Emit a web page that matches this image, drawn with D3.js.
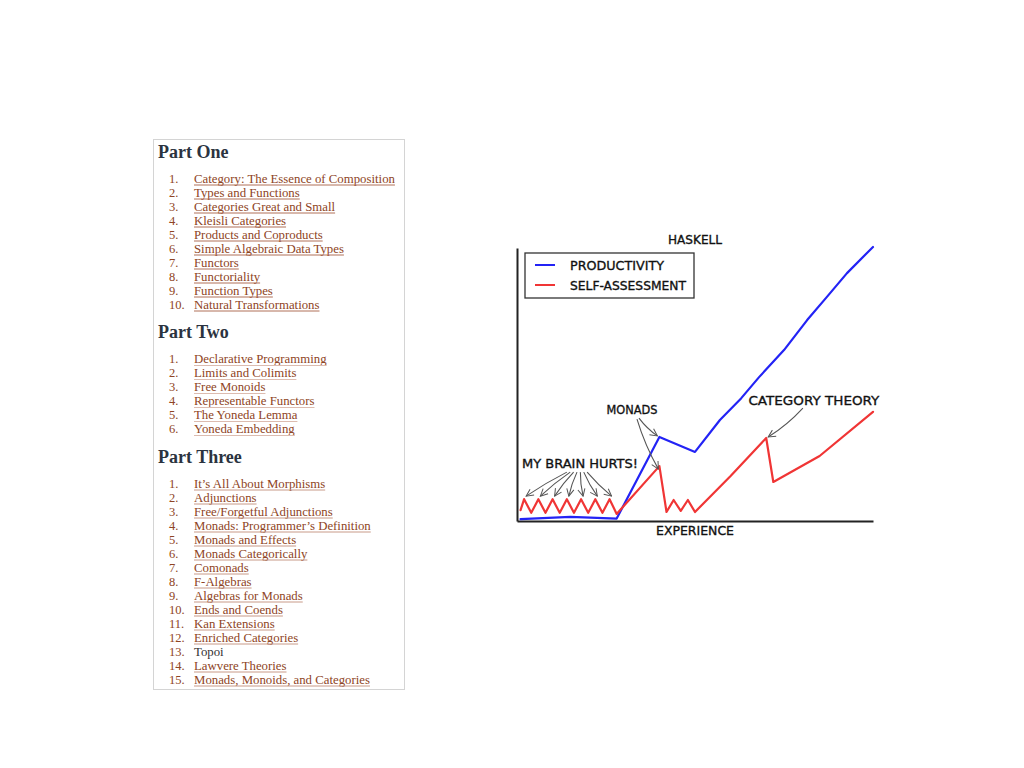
<!DOCTYPE html>
<html>
<head>
<meta charset="utf-8">
<script src="https://cdn.jsdelivr.net/npm/d3@7/dist/d3.min.js"></script>
<style>
  html, body { margin: 0; padding: 0; background: #fff; }
  svg { display: block; }
</style>
</head>
<body>
<script>
// ---------- Table of contents data ----------
const sectionTitles = ["Part One", "Part Two", "Part Three"];
const partOne = [
  "Category: The Essence of Composition", "Types and Functions", "Categories Great and Small",
  "Kleisli Categories", "Products and Coproducts", "Simple Algebraic Data Types",
  "Functors", "Functoriality", "Function Types", "Natural Transformations"
];
const partTwo = [
  "Declarative Programming", "Limits and Colimits", "Free Monoids",
  "Representable Functors", "The Yoneda Lemma", "Yoneda Embedding"
];
const partThree = [
  "It\u2019s All About Morphisms", "Adjunctions", "Free/Forgetful Adjunctions",
  "Monads: Programmer\u2019s Definition", "Monads and Effects", "Monads Categorically",
  "Comonads", "F-Algebras", "Algebras for Monads", "Ends and Coends", "Kan Extensions",
  "Enriched Categories", "Topoi", "Lawvere Theories", "Monads, Monoids, and Categories"
];
const unlinked = ["Topoi"];

// ---------- Chart data (experience 0-100, level 0-100) ----------
const seriesNames = ["PRODUCTIVITY", "SELF-ASSESSMENT"];
const productivityX = [1, 15, 28, 40, 50, 57, 63, 68, 75, 81.5, 87, 92.7, 100];
const productivityY = [0.7, 1.5, 0.9, 30.8, 25.3, 37, 45, 52.7, 62.6, 73.6, 82, 90.8, 100.4];
const selfAssessX = [1, 2, 4, 6, 8, 10, 12, 14, 16, 18, 20, 22, 24, 26, 28, 40, 42, 44, 46, 48, 50, 60, 70, 72, 85, 100];
const selfAssessY = [4, 8, 3, 8, 3, 8, 3, 8, 3, 8, 3, 8, 3, 8, 2.6, 20.1, 3.3, 7.7, 3.7, 7.7, 3.3, 16.5, 30.4, 14.3, 23.8, 40];
const chartTitle = "HASKELL";
const xLabel = "EXPERIENCE";
const annotationTexts = ["MY BRAIN HURTS!", "MONADS", "CATEGORY THEORY"];
const annotationX = [17.7, 32.3, 83.4];
const annotationY = [21.2, 41, 44.3];

const W = 1024, H = 768;
const svg = d3.select("body").append("svg").attr("width", W).attr("height", H);

const defs = svg.append("defs");
defs.append("marker").attr("id", "arrow")
  .attr("viewBox", "0 0 10 10").attr("refX", 9).attr("refY", 5)
  .attr("markerWidth", 9).attr("markerHeight", 9).attr("markerUnits", "userSpaceOnUse")
  .attr("orient", "auto")
  .append("path").attr("d", "M1,1 L9,5 L1,9").attr("fill", "none")
  .attr("stroke", "#555").attr("stroke-width", 1.1);

// ---------- Table of contents ----------
const toc = svg.append("g");
toc.append("rect").attr("x", 153.5).attr("y", 139.5).attr("width", 251).attr("height", 550)
  .attr("fill", "#fff").attr("stroke", "#d4d4d4").attr("stroke-width", 1);

const sections = [partOne, partTwo, partThree];
const underlineColors = ["#b07058", "#dcbcb0", "#c89a88"];
let cy = 151.5;
sections.forEach((items, si) => {
  toc.append("text").attr("x", 158).attr("y", cy + 6)
    .attr("font-family", "Liberation Serif, DejaVu Serif, serif")
    .attr("font-weight", "bold").attr("font-size", 18).attr("fill", "#2b3340")
    .text(sectionTitles[si]);
  cy += 26.5;
  items.forEach((t, i) => {
    const by = cy + 4.5;
    toc.append("text").attr("x", 169).attr("y", by)
      .attr("font-family", "Liberation Serif, DejaVu Serif, serif")
      .attr("font-size", 12.5).attr("fill", "#8e4424").text((i + 1) + ".");
    const isLink = unlinked.indexOf(t) < 0;
    const tx = toc.append("text").attr("x", 194).attr("y", by)
      .attr("font-family", "Liberation Serif, DejaVu Serif, serif")
      .attr("font-size", 12.8).attr("fill", isLink ? "#8e4424" : "#333").text(t);
    if (isLink) {
      const len = tx.node().getComputedTextLength();
      toc.append("line").attr("x1", 194).attr("x2", 194 + len)
        .attr("y1", by + 2.5).attr("y2", by + 2.5)
        .attr("stroke", underlineColors[si]).attr("stroke-width", 1);
    }
    cy += 14;
  });
  cy += 14;
});

// ---------- XKCD chart ----------
const x = d3.scaleLinear().domain([0, 100]).range([517, 873]);
const y = d3.scaleLinear().domain([0, 100]).range([521, 248]);
const chart = svg.append("g");

const xAxis = chart.append("g").attr("transform", `translate(0,${y(0)})`)
  .call(d3.axisBottom(x).tickValues([]).tickSizeOuter(0));
const yAxis = chart.append("g").attr("transform", `translate(${x(0)},0)`)
  .call(d3.axisLeft(y).tickValues([]).tickSizeOuter(0));
[xAxis, yAxis].forEach(a => a.select(".domain").attr("stroke", "#222").attr("stroke-width", 2));

const line = d3.line().x(d => x(d[0])).y(d => y(d[1]));
const prod = productivityX.map((v, i) => [v, productivityY[i]]);
const self = selfAssessX.map((v, i) => [v, selfAssessY[i]]);
const colors = ["#2323f5", "#f03535"];
[prod, self].forEach((pts, i) => {
  chart.append("path").datum(pts).attr("d", line).attr("fill", "none")
    .attr("stroke", colors[i]).attr("stroke-width", 2.2)
    .attr("stroke-linejoin", "round").attr("stroke-linecap", "round");
});

const fontFam = "DejaVu Sans, sans-serif";
function label(txt, cx, cyy, w) {
  chart.append("text").attr("x", cx).attr("y", cyy).attr("text-anchor", "middle")
    .attr("font-family", fontFam).attr("font-size", 13).attr("fill", "#111")
    .attr("stroke", "#111").attr("stroke-width", 0.35)
    .attr("textLength", w).attr("lengthAdjust", "spacingAndGlyphs").text(txt);
}
label(chartTitle, x(50), 244, 54);
label(xLabel, x(50), 535, 78);

// Legend
const lg = chart.append("g");
lg.append("rect").attr("x", x(0) + 8).attr("y", y(100) + 5).attr("width", 169).attr("height", 45)
  .attr("fill", "#fff").attr("stroke", "#333").attr("stroke-width", 1.3);
seriesNames.forEach((n, i) => {
  const ly = y(100) + 17 + i * 20;
  lg.append("line").attr("x1", x(0) + 18).attr("x2", x(0) + 38).attr("y1", ly).attr("y2", ly)
    .attr("stroke", colors[i]).attr("stroke-width", 2);
  lg.append("text").attr("x", x(0) + 53).attr("y", ly + 5)
    .attr("font-family", fontFam).attr("font-size", 13).attr("fill", "#111")
    .attr("stroke", "#111").attr("stroke-width", 0.35)
    .attr("textLength", i === 0 ? 94 : 116).attr("lengthAdjust", "spacingAndGlyphs").text(n);
});

// Annotations
const annW = [116, 51, 131];
annotationTexts.forEach((t, i) => {
  label(t, x(annotationX[i]), y(annotationY[i]) + 5, annW[i]);
});

function arrow(sx, sy, ex, ey, bend) {
  const mx = (sx + ex) / 2, my = (sy + ey) / 2;
  const dx = ex - sx, dy = ey - sy;
  const L = Math.hypot(dx, dy);
  const cxp = mx - dy / L * bend, cyp = my + dx / L * bend;
  chart.append("path").attr("d", `M${sx},${sy} Q${cxp},${cyp} ${ex},${ey}`)
    .attr("fill", "none").attr("stroke", "#555").attr("stroke-width", 1.1)
    .attr("marker-end", "url(#arrow)");
}
// MY BRAIN HURTS! -> zigzag peaks
const peaks = self.filter((p, i) => i >= 1 && i <= 13 && i % 2 === 1);
peaks.forEach((p, k) => {
  const sx = x(annotationX[0] - 3.7 + k * 0.95), sy = y(annotationY[0]) + 9;
  arrow(sx, sy, x(p[0]) + 2, y(p[1]) - 3, 1.5);
});
// MONADS -> blue peak and red peak
arrow(x(annotationX[1]) + 7, y(annotationY[1]) + 9, x(prod[3][0]) - 2, y(prod[3][1]) - 1, 2);
arrow(x(annotationX[1]) + 5, y(annotationY[1]) + 10, x(self[15][0]) - 1, y(self[15][1]) + 3, 3);
// CATEGORY THEORY -> red peak
arrow(x(annotationX[2]) - 11, y(annotationY[2]) + 8, x(self[22][0]) + 2, y(self[22][1]) - 1, -3);
</script>
</body>
</html>
